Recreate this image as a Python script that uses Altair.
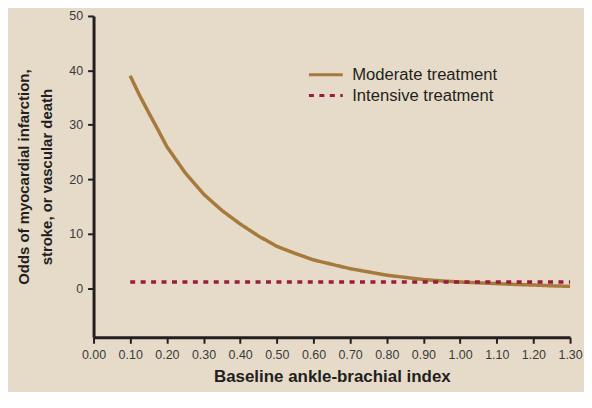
import altair as alt
import pandas as pd

abi_moderate = [0.10, 0.125, 0.15, 0.175, 0.20, 0.25, 0.30, 0.35, 0.40, 0.45, 0.50, 0.55, 0.60,
                0.65, 0.70, 0.75, 0.80, 0.85, 0.90, 0.95, 1.00, 1.05, 1.10, 1.15, 1.20, 1.25, 1.30]
odds_moderate = [39.0, 35.5, 32.3, 29.2, 26.0, 21.2, 17.3, 14.3, 11.8, 9.6, 7.7, 6.4, 5.2,
                 4.4, 3.6, 3.0, 2.4, 2.0, 1.6, 1.35, 1.15, 1.0, 0.85, 0.7, 0.6, 0.45, 0.35]
abi_intensive = [0.10, 1.30]
odds_intensive = [1.15, 1.15]

series = ["Moderate treatment", "Intensive treatment"]
x_ticks = [round(0.1 * i, 2) for i in range(14)]
y_ticks = [0, 10, 20, 30, 40, 50]

df = pd.concat([
    pd.DataFrame({"abi": abi_moderate, "odds": odds_moderate, "series": series[0]}),
    pd.DataFrame({"abi": abi_intensive, "odds": odds_intensive, "series": series[1]}),
])

FONT = "Liberation Sans"

chart = alt.Chart(df).mark_line(strokeWidth=3.5, strokeCap="butt").encode(
    x=alt.X("abi:Q", scale=alt.Scale(domain=[0, 1.3], nice=False),
            axis=alt.Axis(values=x_ticks, format=".2f", title="Baseline ankle-brachial index",
                          grid=False, labelFontSize=12.5, titleFontSize=17, titleFontWeight="bold",
                          titlePadding=8, labelPadding=5, tickSize=6, labelFlush=False)),
    y=alt.Y("odds:Q", scale=alt.Scale(domain=[-9, 50], nice=False, zero=False),
            axis=alt.Axis(values=y_ticks, title=["Odds of myocardial infarction,", "stroke, or vascular death"],
                          grid=False, labelFontSize=12.5, titleFontSize=15, titleFontWeight="bold",
                          titlePadding=14, labelPadding=5, tickSize=6, titleLineHeight=23,
                          labelFlush=False)),
    color=alt.Color("series:N", scale=alt.Scale(domain=series, range=["#a67a3c", "#9b1b3d"]),
                    legend=alt.Legend(title=None, orient="none", legendX=215, legendY=49,
                                      symbolType="M-1,0H3", symbolSize=289, symbolStrokeWidth=3,
                                      labelFontSize=16.7, labelFont=FONT, rowPadding=2,
                                      labelColor="#231f20", labelOffset=25, labelLimit=400)),
    strokeDash=alt.StrokeDash("series:N", scale=alt.Scale(domain=series, range=[[1, 0], [5, 5.5]]),
                              legend=None),
).properties(
    width=479, height=323,
    background="#e6dbc8",
    padding={"left": 86, "top": 7, "right": 14, "bottom": 54},
    autosize=alt.AutoSizeParams(type="none"),
).configure_view(stroke=None).configure_axis(
    domainColor="#231f20", domainWidth=3, tickColor="#231f20", tickWidth=2,
    labelColor="#3a3a3a", titleColor="#231f20", labelFont=FONT, titleFont=FONT,
)

chart.save("out.html", embed_options={"renderer": "svg", "actions": False})
